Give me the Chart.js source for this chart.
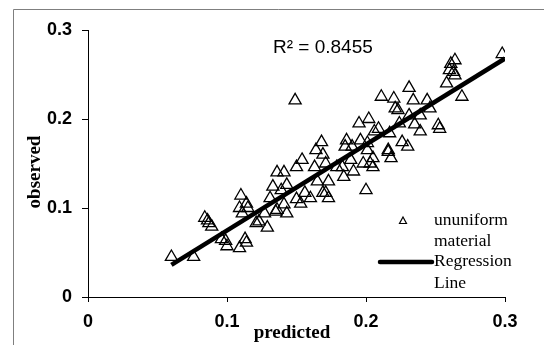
<!DOCTYPE html>
<html>
<head>
<meta charset="utf-8">
<script src="https://cdn.jsdelivr.net/npm/chart.js@4/dist/chart.umd.min.js"></script>
<style>
html,body{margin:0;padding:0;background:#fff;}
#wrap{width:544px;height:345px;position:relative;}
</style>
</head>
<body>
<div id="wrap"><canvas id="c"></canvas></div>
<script>
// predicted values (x)
const predicted = [0.060,0.076,0.084,0.086,0.087,0.089,0.096,0.099,0.100,0.109,0.110,0.109,0.111,0.114,0.115,0.113,0.114,0.123,0.121,0.127,0.129,0.133,0.131,0.136,0.141,0.139,0.143,0.136,0.135,0.141,0.143,0.149,0.150,0.153,0.150,0.154,0.156,0.160,0.163,0.164,0.168,0.169,0.171,0.173,0.165,0.169,0.173,0.171,0.179,0.183,0.184,0.185,0.186,0.189,0.190,0.191,0.195,0.196,0.198,0.200,0.202,0.201,0.201,0.203,0.205,0.205,0.206,0.209,0.211,0.216,0.217,0.218,0.216,0.220,0.221,0.223,0.224,0.226,0.230,0.231,0.234,0.231,0.235,0.239,0.239,0.244,0.246,0.252,0.253,0.258,0.260,0.261,0.264,0.263,0.264,0.269,0.298];
// observed values (y)
const observed = [0.045,0.045,0.089,0.086,0.083,0.079,0.065,0.063,0.057,0.055,0.114,0.100,0.094,0.105,0.100,0.065,0.061,0.085,0.083,0.094,0.078,0.124,0.111,0.140,0.140,0.120,0.126,0.098,0.096,0.104,0.094,0.221,0.110,0.105,0.146,0.154,0.117,0.111,0.146,0.165,0.174,0.160,0.150,0.130,0.130,0.117,0.111,0.117,0.146,0.146,0.135,0.169,0.176,0.154,0.169,0.141,0.195,0.176,0.150,0.120,0.200,0.173,0.165,0.150,0.156,0.146,0.186,0.189,0.225,0.165,0.184,0.156,0.163,0.223,0.212,0.210,0.195,0.174,0.169,0.235,0.221,0.204,0.194,0.204,0.186,0.221,0.212,0.193,0.189,0.240,0.255,0.262,0.266,0.253,0.249,0.225,0.273];
// regression line end points
const regressionX = [0.06, 0.30];
const regressionY = [0.036, 0.268];
const tickLabels = ['0', '0.1', '0.2', '0.3'];
const r2Label = 'R\u00B2 = 0.8455';
const seriesNames = ['ununiform', 'material', 'Regression', 'Line'];
const axisTitles = {x: 'predicted', y: 'observed'};

const scatterPts = predicted.map((x, i) => ({x: x, y: observed[i]}));
const regPts = regressionX.map((x, i) => ({x: x, y: regressionY[i]}));

const decor = {
  id: 'decor',
  beforeDraw(chart) {
    const ctx = chart.ctx;
    ctx.save();
    ctx.fillStyle = '#fff';
    ctx.fillRect(0, 0, chart.width, chart.height);
    ctx.strokeStyle = '#7f7f7f';
    ctx.lineWidth = 1;
    ctx.beginPath();
    ctx.moveTo(13.5, 345);
    ctx.lineTo(13.5, 9.5);
    ctx.lineTo(544, 9.5);
    ctx.stroke();
    ctx.restore();
  },
  afterDraw(chart) {
    const ctx = chart.ctx;
    ctx.save();
    ctx.fillStyle = '#000';
    // R2 label
    ctx.font = '19px "Liberation Sans", Arial, sans-serif';
    ctx.textBaseline = 'alphabetic';
    ctx.textAlign = 'left';
    ctx.fillText(r2Label, 273, 53);
    // axis titles
    ctx.font = 'bold 19px "Liberation Serif", "Times New Roman", serif';
    ctx.textAlign = 'center';
    ctx.fillText(axisTitles.x, 292, 338);
    ctx.save();
    ctx.translate(40, 172);
    ctx.rotate(-Math.PI / 2);
    ctx.fillText(axisTitles.y, 0, 0);
    ctx.restore();
    // legend
    ctx.font = '17.5px "Liberation Serif", "Times New Roman", serif';
    ctx.textAlign = 'left';
    ctx.fillText(seriesNames[0], 434, 225);
    ctx.fillText(seriesNames[1], 434, 246);
    ctx.fillText(seriesNames[2], 434, 266);
    ctx.fillText(seriesNames[3], 434, 288);
    // legend triangle
    ctx.strokeStyle = '#000';
    ctx.lineWidth = 1.2;
    ctx.beginPath();
    ctx.moveTo(403, 217);
    ctx.lineTo(406.5, 223.5);
    ctx.lineTo(399.5, 223.5);
    ctx.closePath();
    ctx.stroke();
    // legend line
    ctx.lineWidth = 4.5;
    ctx.lineCap = 'round';
    ctx.beginPath();
    ctx.moveTo(380, 262);
    ctx.lineTo(432, 262);
    ctx.stroke();
    ctx.restore();
  }
};

new Chart(document.getElementById('c'), {
  type: 'scatter',
  data: {
    datasets: [
      {
        label: 'ununiform material',
        data: scatterPts,
        pointStyle: 'triangle',
        pointRadius: 7,
        pointHoverRadius: 7,
        borderColor: '#000',
        backgroundColor: 'rgba(0,0,0,0)',
        borderWidth: 1.3,
        order: 1
      },
      {
        type: 'line',
        label: 'Regression Line',
        data: regPts,
        showLine: true,
        borderColor: '#000',
        borderWidth: 4.5,
        pointRadius: 0,
        fill: false,
        order: 0
      }
    ]
  },
  options: {
    responsive: true,
    maintainAspectRatio: false,
    animation: false,
    events: [],
    layout: {padding: {left: 0, top: 30, right: 39, bottom: 0}},
    plugins: {legend: {display: false}, tooltip: {enabled: false}},
    scales: {
      x: {
        type: 'linear', min: 0, max: 0.3,
        afterFit(s) { s.height = 48; },
        ticks: {
          stepSize: 0.1, color: '#000', padding: 9, maxRotation: 0,
          font: {family: '"Liberation Sans", Arial, sans-serif', size: 18, weight: 'bold'},
          callback: (v, i) => tickLabels[i]
        },
        grid: {drawOnChartArea: false, drawTicks: true, tickLength: 5, tickColor: '#000', tickWidth: 1},
        border: {display: true, color: '#000', width: 1}
      },
      y: {
        type: 'linear', min: 0, max: 0.3,
        afterFit(s) { s.width = 88; },
        ticks: {
          stepSize: 0.1, color: '#000', padding: 10,
          font: {family: '"Liberation Sans", Arial, sans-serif', size: 18, weight: 'bold'},
          callback: (v, i) => tickLabels[i]
        },
        grid: {drawOnChartArea: false, drawTicks: true, tickLength: 6, tickColor: '#000', tickWidth: 1},
        border: {display: true, color: '#000', width: 1}
      }
    }
  },
  plugins: [decor]
});
</script>
</body>
</html>
